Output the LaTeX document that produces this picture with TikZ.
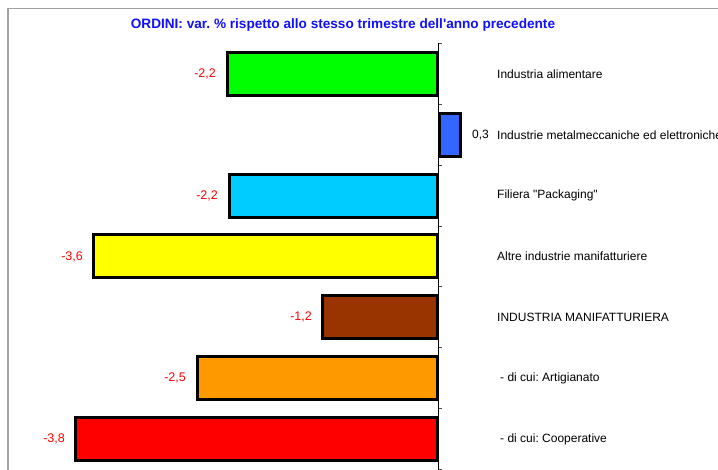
\documentclass[tikz,border=0pt]{standalone}
\usepackage{fontspec}
\setmainfont{Liberation Sans}
\newfontfamily\arialf{Liberation Sans}
\frenchspacing
\definecolor{titleblue}{HTML}{1010FF}
\definecolor{cgreen}{HTML}{00FF00}
\definecolor{cblue}{HTML}{3366FF}
\definecolor{ccyan}{HTML}{00CCFF}
\definecolor{cyellow}{HTML}{FFFF00}
\definecolor{cbrown}{HTML}{993300}
\definecolor{corange}{HTML}{FF9900}
\definecolor{cred}{HTML}{FF0000}
\definecolor{framegray}{HTML}{A0A0A0}
\tikzset{
  barbox/.style={draw=black, line width=3pt},
  vallabel/.style={text=cred, font=\arialf\fontsize{12.5}{14}\selectfont, anchor=east, inner sep=0pt},
  poslabel/.style={text=black, font=\arialf\fontsize{12}{14}\selectfont, anchor=west, inner sep=0pt},
  catlabel/.style={text=black, font=\arialf\fontsize{12}{14}\selectfont, anchor=west, inner sep=0pt},
  titlestyle/.style={text=titleblue, font=\arialf\bfseries\fontsize{13.6}{16}\selectfont, inner sep=0pt}
}
\begin{document}
\begin{tikzpicture}[x=1pt,y=-1pt]
\useasboundingbox (0,0) rectangle (718,470);
\fill[white] (0,0) rectangle (718,470);
% frame
\draw[framegray, line width=1.2pt] (8,470) -- (8,8.5) -- (718,8.5);
% title
\node[titlestyle] (title) at (343,25) {ORDINI: var. \% rispetto allo stesso trimestre dell'anno precedente};
% bars
\draw[barbox, fill=cgreen]  (227,52.5)  rectangle (437.5,95.5);
\draw[barbox, fill=cblue]   (439.5,113.3) rectangle (460.5,156.3);
\draw[barbox, fill=ccyan]   (229.5,174.2) rectangle (437.5,217.2);
\draw[barbox, fill=cyellow] (93.5,235)  rectangle (437.5,278);
\draw[barbox, fill=cbrown]  (322.5,295.8) rectangle (437.5,338.8);
\draw[barbox, fill=corange] (197.5,356.7) rectangle (437.5,399.7);
\draw[barbox, fill=cred]    (75.5,417.5) rectangle (437.5,460.5);
% axis
\coordinate (axtop) at (438.5,43);
\coordinate (axbot) at (438.5,470);
\draw[black, line width=0.8pt] (axtop) -- (axbot);
\foreach \yy in {43.5,104.3,165.2,226,286.8,347.7,408.5,469.3}
  \draw[black!70, line width=0.8pt] (438.5,\yy) -- (442,\yy);
% value labels
\node[vallabel] (v1) at (216,74) {-2,2};
\node[poslabel] (v2) at (472,134.8) {0,3};
\node[vallabel] (v3) at (218,195.7) {-2,2};
\node[vallabel] (v4) at (83,256.5) {-3,6};
\node[vallabel] (v5) at (312,317.3) {-1,2};
\node[vallabel] (v6) at (186,378.2) {-2,5};
\node[vallabel] (v7) at (65,439) {-3,8};
% category labels
\node[catlabel] (c1) at (497,74) {Industria alimentare};
\node[catlabel] (c2) at (497,134.8) {Industrie metalmeccaniche ed elettroniche};
\node[catlabel] (c3) at (497,195.7) {Filiera "Packaging"};
\node[catlabel] (c4) at (497,256.5) {Altre industrie manifatturiere};
\node[catlabel] (c5) at (497,317.3) {INDUSTRIA MANIFATTURIERA};
\node[catlabel] (c6) at (500,378.2) {- di cui: Artigianato};
\node[catlabel] (c7) at (500,439) {- di cui: Cooperative};
\end{tikzpicture}
\end{document}
